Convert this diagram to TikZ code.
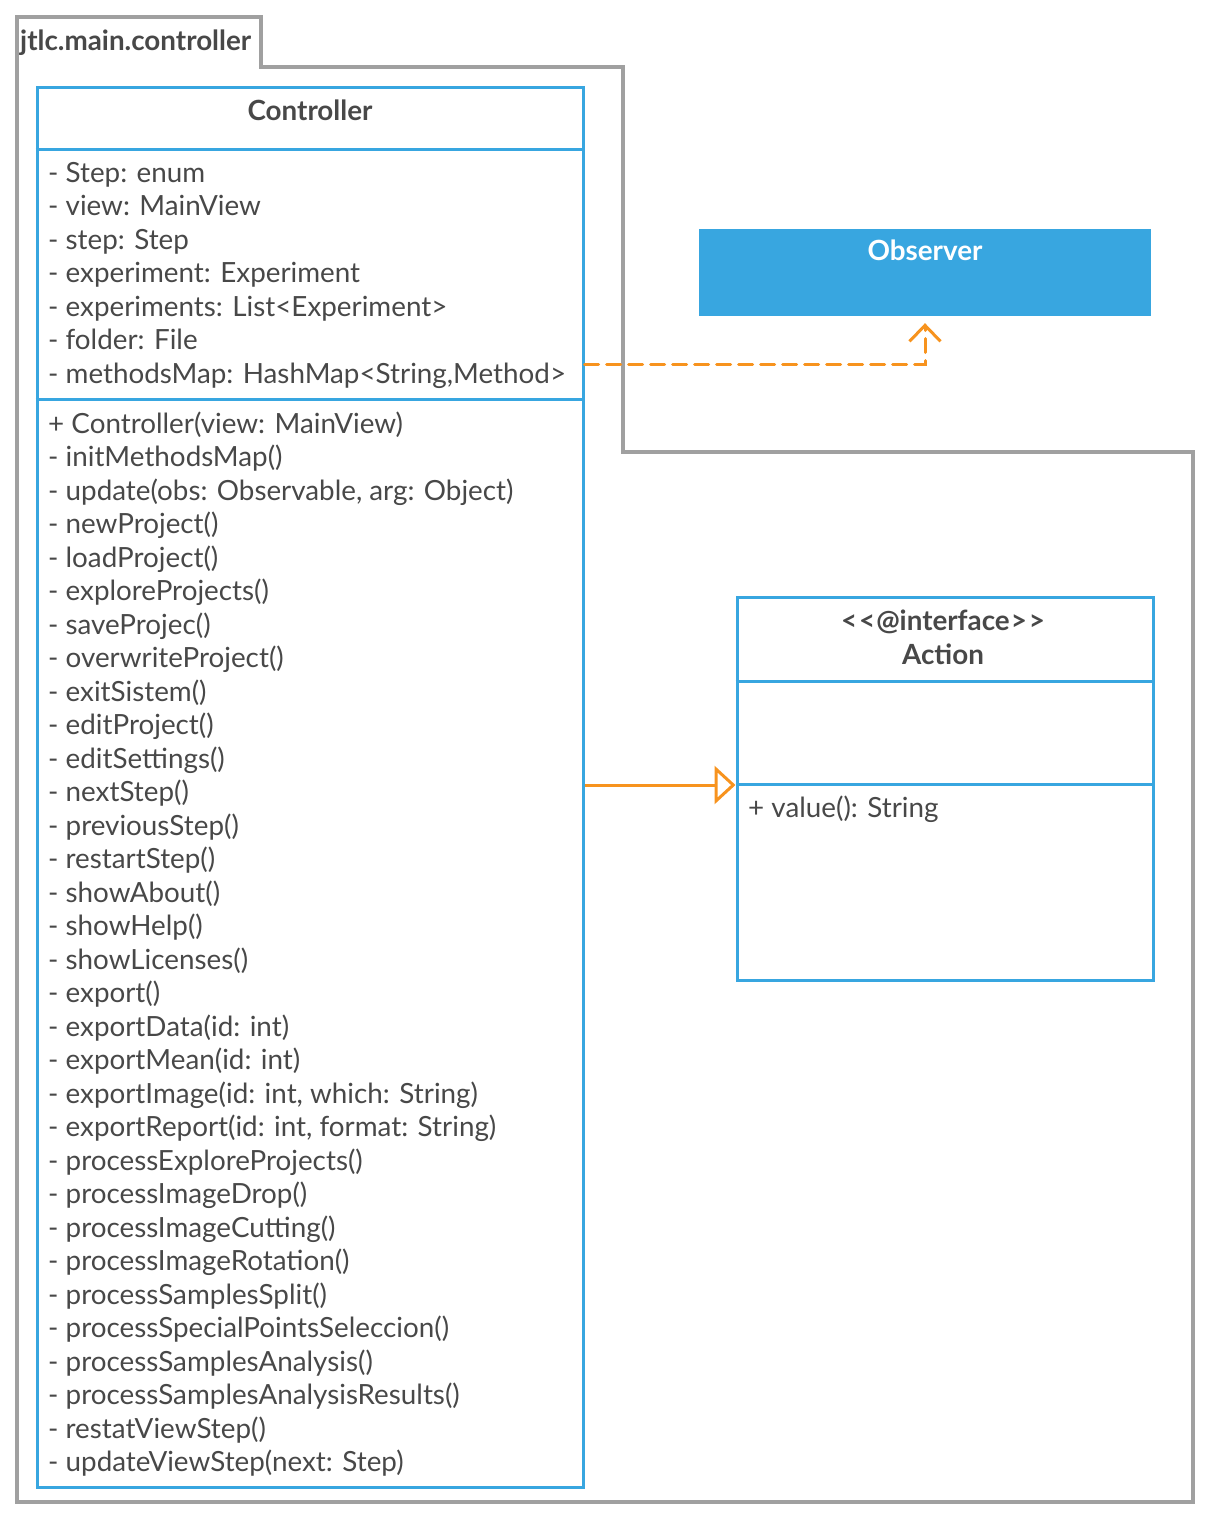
\documentclass[tikz,border=0pt]{standalone}
\usepackage{fontspec}
\setmainfont{Lato}
\usetikzlibrary{arrows.meta, positioning}
\definecolor{umlblue}{RGB}{56,166,224}
\definecolor{umlorange}{RGB}{247,147,30}
\definecolor{pkggray}{RGB}{160,160,160}
\definecolor{textgray}{RGB}{72,72,72}

\begin{document}
\begin{tikzpicture}[x=1pt, y=-1pt,
    classbox/.style={draw=umlblue, line width=3pt, inner sep=0pt},
    row/.style={anchor=base west, inner sep=0pt, text=textgray, font=\fontsize{27.8}{31}\selectfont},
    title/.style={anchor=base, inner sep=0pt, text=textgray, font=\fontsize{27.8}{31}\selectfont\bfseries}]
    \useasboundingbox (0,0) rectangle (1210,1520);

    % Package
    \draw[pkggray, line width=3.5pt] (17,17) -- (261,17) -- (261,67) -- (623,67) -- (623,452)
        -- (1193,452) -- (1193,1502) -- (17,1502) -- cycle;
    \node[title, anchor=base west] (pkg) at (20,51) {jtlc.main.controller};

    % Controller class
    \node[classbox, minimum width=546pt, minimum height=1400pt] (ctrl) at (310,787) {};
    \draw[umlblue, line width=3pt] (ctrl.west |- 0,149) -- (ctrl.east |- 0,149);
    \draw[umlblue, line width=3pt] (ctrl.west |- 0,399) -- (ctrl.east |- 0,399);
    \node[title] (ctrltitle) at (310,120) {Controller};
    \foreach \txt [count=\i from 0] in {- Step: enum, - view: MainView, - step: Step,
        - experiment: Experiment, - experiments: List<Experiment>, - folder: File,
        {- methodsMap: HashMap<String,Method>}}
        \node[row] (attr\i) at (48,182+33.5*\i) {\txt};
    \foreach \txt [count=\i from 0] in {+ Controller(view: MainView), - initMethodsMap(),
        {- update(obs: Observable, arg: Object)}, - newProject(), - loadProject(),
        - exploreProjects(), - saveProjec(), - overwriteProject(), - exitSistem(),
        - editProject(), - editSettings(), - nextStep(), - previousStep(), - restartStep(),
        - showAbout(), - showHelp(), - showLicenses(), - export(), - exportData(id: int),
        - exportMean(id: int), {- exportImage(id: int, which: String)},
        {- exportReport(id: int, format: String)}, - processExploreProjects(),
        - processImageDrop(), - processImageCutting(), - processImageRotation(),
        - processSamplesSplit(), - processSpecialPointsSeleccion(),
        - processSamplesAnalysis(), - processSamplesAnalysisResults(),
        - restatViewStep(), - updateViewStep(next: Step)}
        \node[row] (meth\i) at (48,433+33.5*\i) {\txt};

    % Observer
    \node[fill=umlblue, minimum width=452pt, minimum height=87pt, inner sep=0pt] (obs) at (925,272.5) {};
    \node[title, text=white] (obstitle) at (925,260) {Observer};

    % Action interface
    \node[classbox, minimum width=416pt, minimum height=383pt] (act) at (945,788.5) {};
    \draw[umlblue, line width=3pt] (act.west |- 0,681) -- (act.east |- 0,681);
    \draw[umlblue, line width=3pt] (act.west |- 0,784) -- (act.east |- 0,784);
    \node[title] (acttype) at (943,630) {<\kern2pt<\kern1pt@interface\kern1pt>\kern2pt>};
    \node[title] (acttitle) at (943,664) {Action};
    \node[row] (actop) at (748,817) {+ value(): String};

    % Relations
    \coordinate (dep) at (ctrl.east |- 0,364);
    \draw[umlorange, line width=3pt, dash pattern=on 14pt off 8pt, line cap=round,
        -{Straight Barb[length=16pt, width=31pt]}, shorten >=7pt] (dep) -| (obs.south);
    \coordinate (gen) at (ctrl.east |- 0,785);
    \draw[umlorange, line width=3pt, -{Triangle[open, length=21pt, width=38pt]}] (gen) -- (gen -| act.west);
\end{tikzpicture}
\end{document}
